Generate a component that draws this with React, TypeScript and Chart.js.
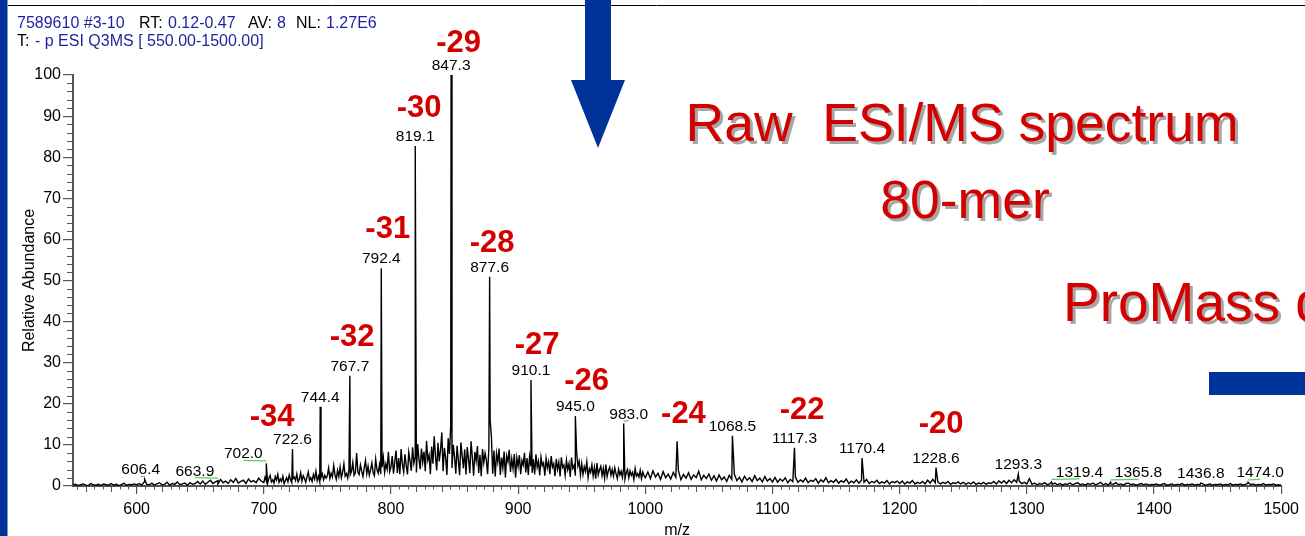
import React, { useEffect, useRef } from 'react';
import { Chart, registerables } from 'chart.js';
Chart.register(...registerables);

const xTickValues = [600, 700, 800, 900, 1000, 1100, 1200, 1300, 1400, 1500];
const yTickValues = [0, 10, 20, 30, 40, 50, 60, 70, 80, 90, 100];

// baseline noise (relative abundance %), three sampled segments
// segment A: 550..698, every 2 m/z
const noiseAStart = 550;
const noiseAStep = 2;
const noiseA = [
  0.2,0.4,0.1,0.3,0.5,0.2,0.1,0.6,0.3,0.2,0.4,0.1,0.5,0.3,0.2,0.6,0.2,0.4,0.1,0.3,0.7,0.2,0.4,0.3,0.5,
  0.3,0.6,0.2,1.0,0.4,0.3,0.7,0.2,0.5,0.8,0.3,0.4,0.9,0.2,0.6,0.4,1.0,0.3,0.5,0.7,0.2,0.8,0.4,0.6,1.1,
  0.5,1.2,0.4,0.9,1.4,0.6,1.0,0.5,1.6,0.8,1.2,0.6,1.5,0.9,1.8,0.7,1.1,1.4,0.6,1.7,1.0,1.3,0.8,1.9,1.2,
];
// segment B: 700..999, every 1 m/z (dense region)
const noiseBStart = 700;
const noiseBStep = 1;
const noiseB = [
  0.8,2.1,1.2,0.6,1.9,2.6,1.0,1.5,0.7,2.3,1.4,2.8,0.9,1.7,1.1,2.4,0.6,1.3,2.0,1.0,2.7,1.5,0.8,1.8,2.2,
  1.3,2.9,1.0,1.6,3.2,1.2,2.5,1.8,0.9,2.2,3.4,1.4,2.0,1.1,2.8,1.7,3.6,1.3,2.4,1.0,2.1,3.0,1.5,2.6,1.9,
  2.5,4.4,1.8,3.1,2.2,5.0,2.7,1.6,3.8,2.3,4.6,2.0,3.3,5.4,2.4,3.0,1.9,4.1,2.8,3.6,5.7,2.6,3.2,8.0,3.4,
  2.8,5.1,3.6,2.3,4.4,6.2,3.0,4.8,2.6,3.9,5.6,3.2,2.5,6.5,4.0,3.1,5.2,2.9,4.6,7.0,3.3,5.4,4.1,8.3,3.5,
  4.6,7.3,3.0,5.9,8.6,3.2,6.8,2.9,9.0,5.3,3.4,7.7,5.0,2.8,8.2,6.1,3.7,9.4,5.5,7.0,3.3,10.2,6.6,4.1,9.1,
  5.8,8.4,3.6,11.0,6.3,7.5,2.9,9.6,5.4,12.1,7.2,3.8,10.5,6.0,8.8,13.0,3.6,9.3,6.9,2.7,11.6,7.8,14.8,4.4,10.0,
  7.1,3.0,9.8,6.2,2.6,10.6,7.4,4.3,8.9,2.8,9.5,6.5,3.1,10.9,7.0,2.5,8.3,6.1,9.7,3.2,7.6,2.4,9.0,5.7,8.0,
  6.3,2.9,9.2,16.0,12.0,3.0,8.6,2.3,7.9,5.8,9.1,2.7,6.9,4.4,8.4,2.1,7.3,5.9,8.8,3.4,6.6,4.2,7.8,2.0,6.9,
  4.8,7.5,2.9,6.2,5.1,8.1,3.3,6.8,2.7,7.2,5.0,3.2,6.5,2.8,7.7,4.6,6.0,2.6,7.0,4.9,5.6,2.5,6.7,4.4,5.9,
  2.9,7.3,4.6,5.4,2.4,6.6,4.1,5.8,2.3,7.0,4.5,5.1,2.6,6.3,4.0,5.5,2.2,6.9,4.3,5.0,2.5,8.2,4.8,6.0,2.7,
  5.4,2.8,4.7,3.5,5.9,2.0,4.2,3.3,5.1,2.4,4.5,1.8,5.6,2.7,3.9,4.8,2.5,4.3,1.9,5.2,2.3,3.8,4.6,2.6,4.0,
  2.4,4.4,3.0,1.8,4.1,2.7,3.6,2.1,4.3,1.7,3.2,4.0,2.0,3.7,2.6,3.3,1.6,4.2,2.4,3.0,2.2,3.8,1.8,3.4,2.5,
];
// segment C: 1000..1500, every 2 m/z
const noiseCStart = 1000;
const noiseCStep = 2;
const noiseC = [
  2.0,3.4,1.8,3.7,2.2,3.1,1.6,3.5,2.0,2.9,1.7,3.3,2.1,3.8,1.5,2.8,1.9,3.2,1.6,2.7,2.0,3.6,1.5,2.6,1.8,
  2.9,1.4,2.5,1.2,2.7,1.5,2.2,1.1,2.6,1.6,2.9,1.3,2.1,1.0,2.4,1.4,2.0,1.1,2.5,1.3,1.9,1.0,2.3,1.2,1.8,
  1.0,2.1,0.9,1.7,1.2,2.0,0.8,1.6,1.1,2.2,0.9,1.5,1.0,1.9,0.8,1.4,1.1,1.8,0.7,1.5,1.0,2.0,0.8,1.3,0.9,
  1.6,0.7,1.3,0.9,1.7,0.6,1.2,0.8,1.5,0.7,1.4,0.9,1.6,0.6,1.1,0.8,1.4,0.6,1.0,0.7,1.3,0.5,1.1,0.8,1.2,
  0.6,1.2,0.5,1.0,0.7,1.3,0.5,0.9,0.6,1.1,0.5,1.4,0.7,1.6,0.8,1.0,0.5,0.9,0.6,1.1,0.4,0.8,0.6,1.0,0.5,
  0.9,0.4,0.8,0.5,1.0,0.4,0.7,0.5,0.9,0.4,0.8,0.6,1.1,0.5,1.2,0.7,1.3,0.6,1.4,0.8,1.5,0.9,1.2,0.6,0.9,
  0.5,1.8,0.4,0.7,0.3,0.6,0.4,0.8,0.3,0.5,0.4,0.7,0.3,0.6,0.2,0.5,0.4,0.7,0.3,0.6,0.8,0.3,0.5,0.2,0.6,
  0.4,0.7,0.3,0.5,0.9,0.3,0.6,0.2,0.5,0.4,0.8,0.3,0.5,0.2,0.6,0.7,0.3,0.5,0.2,0.4,0.6,0.3,0.5,0.2,0.4,
  0.3,0.5,0.2,0.4,0.6,0.2,0.3,0.5,0.2,0.4,0.3,0.6,0.2,0.4,0.3,0.5,0.2,0.4,0.3,0.6,0.2,0.3,0.5,0.2,0.4,
  0.3,0.5,0.2,0.4,0.3,0.6,0.2,0.4,0.3,0.5,0.2,0.4,0.7,0.3,0.5,0.2,0.4,0.3,0.6,0.2,0.4,0.3,0.5,0.2,0.3,0.2,
];

// centroided peaks
const peakMz = [606.4, 663.9, 702.0, 722.6, 744.4, 767.7, 792.4, 819.1, 847.3, 877.6, 910.1, 945.0,
  983.0, 1025.0, 1068.5, 1117.3, 1170.4, 1228.6, 1293.3, 1319.4, 1365.8, 1436.8, 1474.0];
const peakHeight = [1.6, 1.3, 5.5, 9.0, 19.3, 26.8, 53.0, 82.7, 100, 50.9, 25.8, 17.0,
  15.2, 10.9, 12.2, 9.3, 6.8, 4.5, 2.9, 1.0, 0.9, 0.7, 0.9];
const peakLabels = ['606.4', '663.9', '702.0', '722.6', '744.4', '767.7', '792.4', '819.1', '847.3', '877.6', '910.1', '945.0',
  '983.0', '', '1068.5', '1117.3', '1170.4', '1228.6', '1293.3', '1319.4', '1365.8', '1436.8', '1474.0'];
// horizontal label displacement (px) used by the instrument software to avoid overlaps
const labelShift = [-4, -23, -23, 0, 0, 0, 0, 0, 0, 0, 0, 0,
  5, 0, 0, 0, 0, 0, 0, 28, 28, 0, 12];

// charge-state annotations (placed in data coordinates)
const chargeText = ['-34', '-32', '-31', '-30', '-29', '-28', '-27', '-26', '-24', '-22', '-20'];
const chargeMz = [706.5, 769.4, 797.5, 822.1, 853.2, 879.5, 914.9, 953.8, 1030.0, 1123.3, 1232.6];
const chargeY = [14.6, 34.1, 60.3, 89.9, 105.6, 56.9, 32.1, 23.4, 15.3, 16.3, 12.9];

const FONT = '"Liberation Sans", Arial, Helvetica, sans-serif';
const BLUE = '#003399';
const HDR_BLUE = '#1f1f9f';
const RED = '#d40000';

export default function App() {
  const ref = useRef<HTMLCanvasElement>(null);

  useEffect(() => {
    if (!ref.current) return;
    const pts: { x: number; y: number }[] = [];
    noiseA.forEach((v, i) => pts.push({ x: noiseAStart + i * noiseAStep, y: v }));
    noiseB.forEach((v, i) => pts.push({ x: noiseBStart + i * noiseBStep, y: v }));
    noiseC.forEach((v, i) => pts.push({ x: noiseCStart + i * noiseCStep, y: v }));
    peakMz.forEach((m, i) => pts.push({ x: m, y: peakHeight[i] }));
    pts.sort((a, b) => a.x - b.x);

    const deco = {
      id: 'deco',
      afterDraw(chart: any) {
        const ctx = chart.ctx as CanvasRenderingContext2D;
        const xs = chart.scales.x;
        const ys = chart.scales.y;
        const area = chart.chartArea;
        ctx.save();

        // minor ticks
        ctx.strokeStyle = '#555';
        ctx.lineWidth = 1;
        ctx.beginPath();
        for (let v = 2; v < 100; v += 2) {
          if (v % 10 === 0) continue;
          const py = Math.round(ys.getPixelForValue(v)) + 0.5;
          ctx.moveTo(area.left - 6, py);
          ctx.lineTo(area.left, py);
        }
        for (let k = -7; k <= 135; k++) {
          const v = 600 + (k * 20) / 3;
          if (v < 550 || v > 1500) continue;
          if (k % 15 === 0) continue;
          const px = Math.round(xs.getPixelForValue(v)) + 0.5;
          const len = k % 3 === 0 ? 6 : 3.5;
          ctx.moveTo(px, area.bottom);
          ctx.lineTo(px, area.bottom + len);
        }
        ctx.stroke();

        // axis titles
        ctx.fillStyle = '#000';
        ctx.font = `16px ${FONT}`;
        ctx.textAlign = 'center';
        ctx.textBaseline = 'alphabetic';
        ctx.fillText('m/z', (area.left + area.right) / 2, 535);
        ctx.save();
        ctx.translate(34, (area.top + area.bottom) / 2);
        ctx.rotate(-Math.PI / 2);
        ctx.fillText('Relative Abundance', 0, 0);
        ctx.restore();

        // peak labels with leader lines
        ctx.font = `15.5px ${FONT}`;
        peakMz.forEach((m, i) => {
          const t = peakLabels[i];
          if (!t) return;
          const px = xs.getPixelForValue(m);
          const top = ys.getPixelForValue(peakHeight[i]);
          const cx = px + labelShift[i];
          const base = top - 5;
          ctx.fillStyle = '#000';
          ctx.fillText(t, cx, base);
          if (Math.abs(labelShift[i]) >= 3) {
            ctx.strokeStyle = '#5fcf5f';
            ctx.lineWidth = 1.3;
            ctx.beginPath();
            ctx.moveTo(px, base + 2.5);
            ctx.lineTo(cx, base + 2);
            ctx.stroke();
          }
        });

        // charge state labels
        ctx.font = `bold 31px ${FONT}`;
        ctx.fillStyle = RED;
        chargeText.forEach((t, i) => {
          ctx.fillText(t, xs.getPixelForValue(chargeMz[i]), ys.getPixelForValue(chargeY[i]));
        });

        // header
        ctx.textAlign = 'left';
        ctx.font = `16px ${FONT}`;
        const hdr: [string, number, number, string][] = [
          ['7589610 #3-10', 17, 28, HDR_BLUE],
          ['RT:', 139, 28, '#000'],
          ['0.12-0.47', 168, 28, HDR_BLUE],
          ['AV:', 248, 28, '#000'],
          ['8', 277, 28, HDR_BLUE],
          ['NL:', 296, 28, '#000'],
          ['1.27E6', 326, 28, HDR_BLUE],
          ['T:', 17, 46, '#000'],
          ['- p ESI Q3MS [ 550.00-1500.00]', 35, 46, HDR_BLUE],
        ];
        hdr.forEach(([t, x, y, c]) => {
          ctx.fillStyle = c;
          ctx.fillText(t, x, y);
        });

        // top rule
        ctx.strokeStyle = '#000';
        ctx.lineWidth = 1;
        ctx.beginPath();
        ctx.moveTo(8, 5.5);
        ctx.lineTo(1305, 5.5);
        ctx.stroke();

        // left blue bar
        ctx.fillStyle = BLUE;
        ctx.fillRect(0, 0, 7.5, 536);

        // blue arrow
        ctx.beginPath();
        ctx.moveTo(585, 0);
        ctx.lineTo(611, 0);
        ctx.lineTo(611, 80);
        ctx.lineTo(625, 80);
        ctx.lineTo(598, 148);
        ctx.lineTo(571, 80);
        ctx.lineTo(585, 80);
        ctx.closePath();
        ctx.fill();

        // blue bar right
        ctx.fillRect(1209, 372, 96, 23);

        // big titles with shadows
        const shadowText = (t: string, x: number, y: number, align: CanvasTextAlign) => {
          ctx.textAlign = align;
          ctx.fillStyle = '#a6a6a6';
          ctx.fillText(t, x + 3, y + 3);
          ctx.fillStyle = RED;
          ctx.fillText(t, x, y);
        };
        ctx.font = `53.5px ${FONT}`;
        shadowText('Raw  ESI/MS spectrum', 962, 141, 'center');
        shadowText('80-mer', 965, 218, 'center');
        ctx.font = `55px ${FONT}`;
        shadowText('ProMass deconvolution', 1063, 321, 'left');

        ctx.restore();
      },
    };

    const chart = new Chart(ref.current, {
      type: 'line',
      data: {
        datasets: [
          {
            data: pts,
            borderColor: '#000',
            borderWidth: 1.4,
            pointRadius: 0,
            tension: 0,
            fill: false,
          },
        ],
      },
      options: {
        responsive: false,
        animation: false,
        events: [],
        layout: { padding: { left: 0, top: 75, right: 23, bottom: 0 } },
        plugins: { legend: { display: false }, tooltip: { enabled: false } },
        scales: {
          x: {
            type: 'linear',
            min: 550,
            max: 1500,
            afterFit: (s: any) => { s.height = 50; },
            afterBuildTicks: (s: any) => { s.ticks = xTickValues.map((v) => ({ value: v })); },
            ticks: {
              color: '#000', font: { family: FONT, size: 16 }, padding: 6, maxRotation: 0, autoSkip: false,
              callback: (v: any) => String(v),
            },
            grid: { drawOnChartArea: false, drawTicks: true, tickLength: 8, color: '#555', lineWidth: 1.2 },
            border: { display: true, color: '#555', width: 2 },
          },
          y: {
            type: 'linear',
            min: 0,
            max: 100,
            afterFit: (s: any) => { s.width = 73; },
            afterBuildTicks: (s: any) => { s.ticks = yTickValues.map((v) => ({ value: v })); },
            ticks: { color: '#000', font: { family: FONT, size: 16 }, padding: 2, autoSkip: false, callback: (v: any) => String(v) },
            grid: { drawOnChartArea: false, drawTicks: true, tickLength: 10, color: '#555', lineWidth: 1.2 },
            border: { display: true, color: '#555', width: 2 },
          },
        },
      },
      plugins: [deco],
    });
    return () => chart.destroy();
  }, []);

  return (
    <div style={{ position: 'fixed', left: 0, top: 0, width: 1305, height: 536, background: '#fff' }}>
      <canvas ref={ref} width={1305} height={536} style={{ display: 'block' }} />
    </div>
  );
}
